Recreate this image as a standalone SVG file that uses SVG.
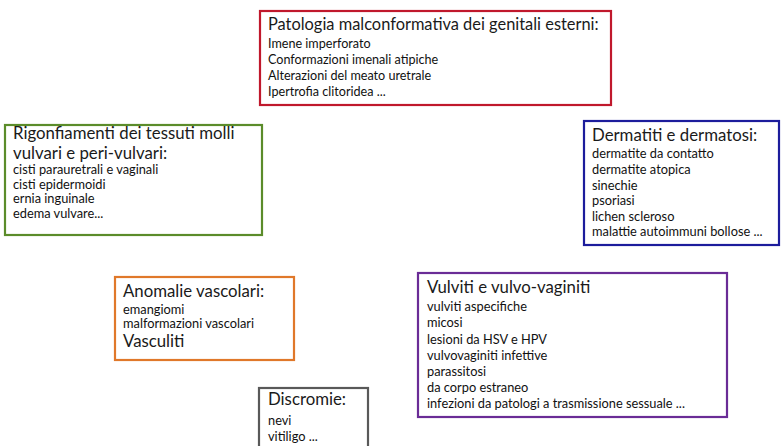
<svg xmlns="http://www.w3.org/2000/svg" width="783" height="446" viewBox="0 0 783 446">
<style>
  .box { fill: #ffffff; stroke-width: 2.2; }
  .title { font-family: Lato, "Liberation Sans", sans-serif; font-size: 16.8px; fill: #1a1a1a; }
  .item { font-family: Lato, "Liberation Sans", sans-serif; font-size: 12.8px; fill: #111111; }
  .red { stroke: #c0182c; }
  .green { stroke: #5b8c2a; }
  .blue { stroke: #1c1c9c; }
  .orange { stroke: #e0782a; }
  .purple { stroke: #6a2c96; }
  .grey { stroke: #595959; }
</style>
<rect width="783" height="446" fill="#ffffff"/>
<g id="connectors"/>
<g id="node-malconformativa">
  <rect class="box red" x="260" y="11" width="351" height="94"/>
  <text class="title" x="268" y="30" style="font-size:16.4px">Patologia malconformativa dei genitali esterni:</text>
  <text class="item" x="268" y="48" style="font-size:12.6px">Imene imperforato</text>
  <text class="item" x="268" y="64" style="font-size:12.6px">Conformazioni imenali atipiche</text>
  <text class="item" x="268" y="80" style="font-size:12.6px">Alterazioni del meato uretrale</text>
  <text class="item" x="268" y="95.5" style="font-size:12.6px">Ipertrofia clitoridea ...</text>
</g>
<g id="node-rigonfiamenti">
  <rect class="box green" x="5" y="125" width="257" height="110"/>
  <text class="title" x="13" y="139">Rigonfiamenti dei tessuti molli</text>
  <text class="title" x="13" y="158.5">vulvari e peri-vulvari:</text>
  <text class="item" x="13" y="174">cisti parauretrali e vaginali</text>
  <text class="item" x="13" y="188.5">cisti epidermoidi</text>
  <text class="item" x="13" y="203">ernia inguinale</text>
  <text class="item" x="13" y="217.5">edema vulvare...</text>
</g>
<g id="node-dermatiti">
  <rect class="box blue" x="584" y="121" width="195" height="124"/>
  <text class="title" x="592" y="141">Dermatiti e dermatosi:</text>
  <text class="item" x="592" y="158">dermatite da contatto</text>
  <text class="item" x="592" y="174">dermatite atopica</text>
  <text class="item" x="592" y="189.5">sinechie</text>
  <text class="item" x="592" y="205">psoriasi</text>
  <text class="item" x="592" y="220.5">lichen scleroso</text>
  <text class="item" x="592" y="236">malattie autoimmuni bollose ...</text>
</g>
<g id="node-anomalie">
  <rect class="box orange" x="115" y="277" width="179" height="83"/>
  <text class="title" x="123" y="297">Anomalie vascolari:</text>
  <text class="item" x="123" y="313.5">emangiomi</text>
  <text class="item" x="123" y="328">malformazioni vascolari</text>
  <text class="title" x="123" y="346.5">Vasculiti</text>
</g>
<g id="node-vulviti">
  <rect class="box purple" x="418" y="273" width="309" height="144"/>
  <text class="title" x="427" y="293">Vulviti e vulvo-vaginiti</text>
  <text class="item" x="427" y="310.5">vulviti aspecifiche</text>
  <text class="item" x="427" y="327">micosi</text>
  <text class="item" x="427" y="343.5">lesioni da HSV e HPV</text>
  <text class="item" x="427" y="359.5">vulvovaginiti infettive</text>
  <text class="item" x="427" y="375.5">parassitosi</text>
  <text class="item" x="427" y="391.5">da corpo estraneo</text>
  <text class="item" x="427" y="407.5">infezioni da patologi a trasmissione sessuale ...</text>
</g>
<g id="node-discromie">
  <rect class="box grey" x="259" y="388" width="109" height="64"/>
  <text class="title" x="268" y="405">Discromie:</text>
  <text class="item" x="268" y="424.5">nevi</text>
  <text class="item" x="268" y="440.5">vitiligo ...</text>
</g>
</svg>
